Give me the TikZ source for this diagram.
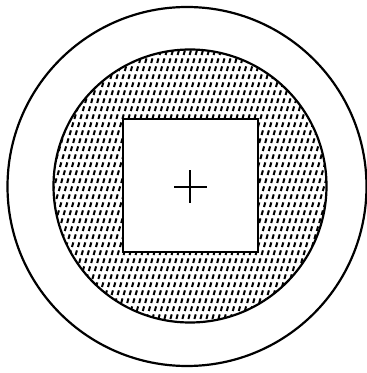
\documentclass[tikz,border=0pt]{standalone}
\usepackage{tikz}

\begin{document}
\begin{tikzpicture}[x=1pt,y=1pt,
  ring/.style={line width=2.2pt},
  hatchdash/.style={line width=2pt},
  cross/.style={line width=2pt}]
\useasboundingbox (0,0) rectangle (367,373);
\coordinate (mid) at (190,187);
\draw[ring] (187,186.5) circle (179.5);
% hatched band
\begin{scope}
\clip (mid) circle (136.5);
\foreach \j in {0,...,36}{
  \foreach \i in {-20,...,48}{
    \draw[hatchdash] ({48+6*\i+2.4*\j},{46+8*\j}) -- ++(74:4.8);
  }
}
\end{scope}
\draw[ring] (mid) circle (136.5);
\filldraw[ring,fill=white] (123,121) rectangle (258,254);
\draw[cross] (174,186) -- (207,186);
\draw[cross] (190,170) -- (190,203);
\end{tikzpicture}
\end{document}
